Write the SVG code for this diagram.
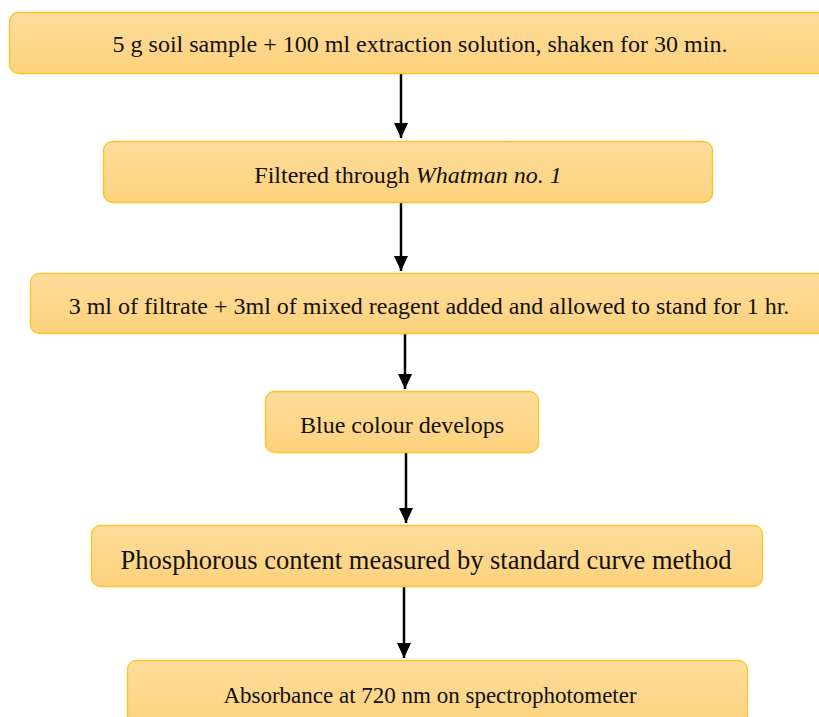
<svg xmlns="http://www.w3.org/2000/svg" width="819" height="717" viewBox="0 0 819 717">
<defs>
<linearGradient id="g" x1="0" y1="0" x2="0" y2="1">
<stop offset="0" stop-color="#fedc9c"/>
<stop offset="1" stop-color="#fdd27c"/>
</linearGradient>
<marker id="ah" markerWidth="15" markerHeight="14" refX="15" refY="7" orient="auto" markerUnits="userSpaceOnUse" viewBox="0 0 15 14">
<path d="M0,0 L15,7 L0,14 Z" fill="#000"/>
</marker>
</defs>
<style>
.box{fill:url(#g);stroke:#fcc427;stroke-width:1.3}
.t{font-family:"Liberation Serif","Times New Roman",serif;font-size:24px;fill:#111;text-anchor:middle}
.c{stroke:#000;stroke-width:2.5;fill:none;marker-end:url(#ah)}
</style>
<g id="connectors">
<line class="c" x1="401" y1="74" x2="401" y2="138"/>
<line class="c" x1="401" y1="203" x2="401" y2="271"/>
<line class="c" x1="405" y1="334" x2="405" y2="389"/>
<line class="c" x1="406" y1="453" x2="406" y2="523"/>
<line class="c" x1="404" y1="587" x2="404" y2="658"/>
</g>
<g id="n1">
<rect class="box" x="9.5" y="12.5" width="820" height="61" rx="9"/>
<text class="t" x="420" y="52">5 g soil sample + 100 ml extraction solution, shaken for 30 min.</text>
</g>
<g id="n2">
<rect class="box" x="103.5" y="141.5" width="609" height="61" rx="9"/>
<text class="t" x="408" y="183">Filtered through <tspan font-style="italic">Whatman no. 1</tspan></text>
</g>
<g id="n3">
<rect class="box" x="30.5" y="273.5" width="800" height="60" rx="9"/>
<text class="t" x="429" y="314">3 ml of filtrate + 3ml of mixed reagent added and allowed to stand for 1 hr.</text>
</g>
<g id="n4">
<rect class="box" x="265.5" y="391.5" width="273" height="61" rx="9"/>
<text class="t" x="402" y="433">Blue colour develops</text>
</g>
<g id="n5">
<rect class="box" x="91.5" y="525.5" width="671" height="61" rx="9"/>
<text class="t" x="426" y="569" style="font-size:26.5px">Phosphorous content measured by standard curve method</text>
</g>
<g id="n6">
<rect class="box" x="127.5" y="660.5" width="620" height="70" rx="9"/>
<text class="t" x="430" y="703" style="font-size:23px">Absorbance at 720 nm on spectrophotometer</text>
</g>
</svg>
